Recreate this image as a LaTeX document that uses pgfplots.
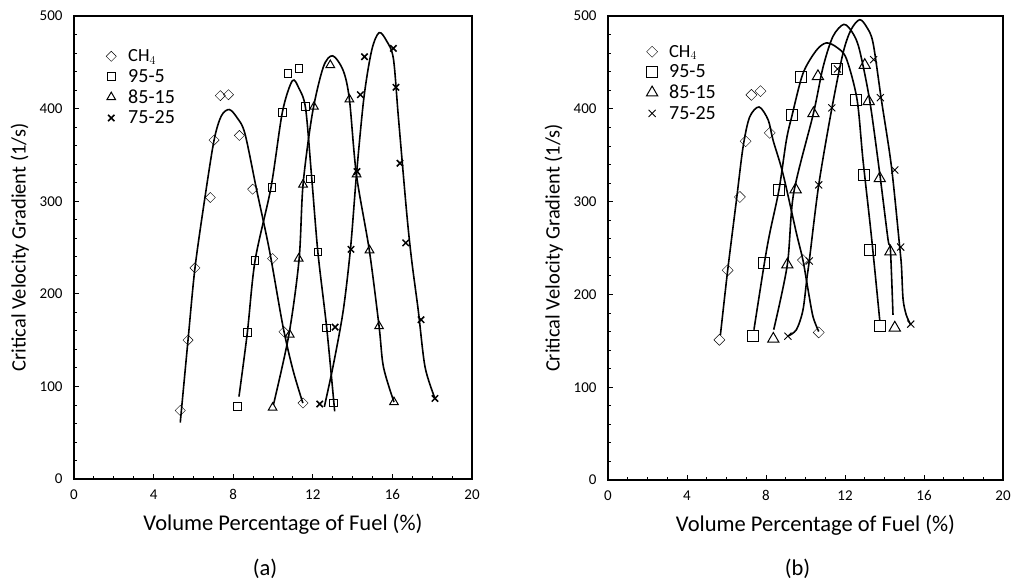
\documentclass[border=0pt]{standalone}
\usepackage{fontspec}
\setmainfont{Carlito}
\usepackage{pgfplots}
\pgfplotsset{compat=1.18}
\newcommand\tickfont{\fontsize{15}{16}\selectfont}
\newcommand\legfont{\fontsize{20}{22}\selectfont}
\newcommand\chfont{\fontsize{18.5}{20}\selectfont}
\newcommand\labfont{\fontsize{22.5}{24}\selectfont}
\newcommand\ylabfont{\fontsize{20.5}{22}\selectfont}

\pgfplotsset{
  panel/.style={
    scale only axis,
    xmin=0, xmax=20, ymin=0, ymax=500,
    xtick={0,4,...,20}, ytick={0,100,...,500},
    minor x tick num=3, minor y tick num=4,
    tick align=inside, tick pos=left,
    major tick length=5pt, minor tick length=3pt,
    every tick/.style={black, line width=0.8pt},
    axis line style={black, line width=1.2pt},
    every tick label/.append style={font=\tickfont},
    xticklabel style={yshift=-7pt},
    yticklabel style={xshift=-8pt},
    /pgf/number format/assume math mode=true,
    xlabel={Volume Percentage of Fuel (\%)},
    ylabel={Critical Velocity Gradient (1/s)},
    xlabel style={font=\labfont, at={(axis description cs:0.5,0)}, anchor=center, yshift=-45pt, xshift=10pt},
    ylabel style={font=\ylabfont, anchor=center},
    legend style={draw=none, fill=none, font=\legfont, anchor=north west,
      row sep=4pt, inner sep=0pt, nodes={inner sep=1pt}},
    legend cell align=left,
    legend image code/.code={\path[draw=none] (-6pt,0pt) -- (16pt,0pt); \draw[#1] plot coordinates {(0pt,0pt)};},
  },
  fitline/.style={black, line width=1.6pt, smooth, tension=0.5, no marks, forget plot},
  mk/.style={only marks, black, mark options={fill=white, line width=1pt}},
}

\begin{document}
\begin{tikzpicture}
\path[use as bounding box] (0,0) rectangle (1013pt,582pt);

% ---------------- (a) ----------------
\begin{axis}[panel, at={(74pt,103pt)}, anchor=south west, width=398pt, height=463pt,
  ylabel style={at={(axis description cs:-0.136,0.5)}},
  legend style={at={(axis description cs:0.078,0.93)}}]
\addplot[fitline] coordinates {(5.34,61) (5.73,150) (6.08,228) (6.58,304) (7.04,366) (7.4,392) (7.8,399) (8.2,390) (8.59,373) (9.18,312) (9.82,247) (10.5,165) (11.0,118) (11.5,82)};
\addplot[fitline] coordinates {(8.29,89) (8.71,158) (9.1,236) (9.9,315) (10.47,396) (10.97,430) (11.3,422) (11.64,400) (11.95,324) (12.26,244) (12.7,163) (13.1,73)};
\addplot[fitline] coordinates {(10.02,80) (10.8,156) (11.31,237) (11.51,318) (11.98,395) (12.53,445) (13.0,457) (13.53,441) (13.84,410) (14.19,329) (14.84,247) (15.33,165) (15.55,121) (16.08,83)};
\addplot[fitline] coordinates {(12.58,78) (13.03,123) (13.53,182) (13.9,250) (14.2,330) (14.57,412) (14.96,463) (15.33,482) (15.71,473) (16.05,454) (16.3,391) (16.72,287) (16.97,236) (17.3,182) (17.64,121) (18.14,87)};

\addplot[mk, mark=square, mark size=3.6pt, mark options={rotate=45}] coordinates {(5.34,74) (5.73,150) (6.08,228) (6.85,304) (7.04,366) (7.35,414) (7.76,415) (8.31,371) (8.98,313) (9.98,238) (10.55,159) (11.51,82)};
\addlegendentry{\chfont$\mathrm{CH}_4$}
\addplot[mk, mark=square, mark size=3.8pt] coordinates {(8.22,78) (8.71,158) (9.1,236) (9.95,315) (10.47,396) (10.75,438) (11.31,443) (11.64,402) (11.89,324) (12.26,245) (12.7,163) (13.03,82)};
\addlegendentry{\legfont 95-5}
\addplot[mk, mark=triangle, mark size=5pt] coordinates {(9.98,77) (10.84,156) (11.29,238) (11.51,318) (12.06,402) (12.88,447) (13.84,410) (14.2,329) (14.85,247) (15.33,165) (16.08,83)};
\addlegendentry{\legfont 85-15}
\addplot[mk, mark=x, mark size=4.5pt, mark options={line width=1.5pt}] coordinates {(12.35,81) (13.12,164) (13.92,248) (14.22,332) (14.39,415) (14.6,456) (16.05,465) (16.18,423) (16.38,341) (16.67,255) (17.44,172) (18.14,87)};
\addlegendentry{\legfont 75-25}
\end{axis}

% ---------------- (b) ----------------
\begin{axis}[panel, at={(608pt,102pt)}, anchor=south west, width=395pt, height=464pt,
  ylabel style={at={(axis description cs:-0.137,0.5)}},
  legend style={at={(axis description cs:0.096,0.94)}}]
\addplot[fitline] coordinates {(5.69,156) (6.06,226) (6.5,301) (6.84,359) (7.17,391) (7.65,402) (8.11,388) (8.36,366) (8.86,330) (9.54,266) (9.87,237) (10.13,205) (10.38,176) (10.67,160)};
\addplot[fitline] coordinates {(7.39,162) (7.92,234) (8.19,266) (8.66,313) (9.03,366) (9.32,393) (9.87,438) (10.55,463) (11.06,471) (11.6,466) (12.07,454) (12.61,410) (12.91,345) (13.34,262) (13.76,172)};
\addplot[fitline] coordinates {(8.39,162) (9.08,232) (9.4,309) (10.4,395) (10.89,445) (11.39,478) (11.95,491) (12.41,481) (12.74,463) (13.25,409) (13.76,330) (14.18,259) (14.3,248) (14.43,178)};
\addplot[fitline] coordinates {(9.11,155) (9.54,162) (9.87,183) (10.08,219) (10.19,236) (10.67,318) (11.33,400) (11.9,460) (12.3,485) (12.74,496) (13.1,488) (13.42,471) (13.84,410) (14.35,338) (14.77,251) (14.86,230) (14.94,195) (15.1,178) (15.33,167)};

\addplot[mk, mark=square, mark size=3.9pt, mark options={rotate=45}] coordinates {(5.64,151) (6.06,226) (6.68,305) (6.97,365) (7.26,415) (7.72,419) (8.19,374) (9.87,237) (10.67,159)};
\addlegendentry{\chfont$\mathrm{CH}_4$}
\addplot[mk, mark=square, mark size=5.5pt] coordinates {(7.34,155) (7.92,234) (8.66,313) (9.32,393) (9.76,434) (11.62,443) (12.58,410) (12.98,329) (13.29,248) (13.76,166)};
\addlegendentry{\legfont 95-5}
\addplot[mk, mark=triangle, mark size=6.5pt] coordinates {(8.37,152) (9.08,232) (9.5,313) (10.4,395) (10.63,435) (13.0,447) (13.2,408) (13.76,325) (14.3,246) (14.52,164)};
\addlegendentry{\legfont 85-15}
\addplot[mk, mark=x, mark size=5pt, mark options={line width=0.9pt}] coordinates {(9.11,155) (10.19,236) (10.67,318) (11.33,401) (11.62,443) (13.45,453) (13.79,412) (14.52,334) (14.82,251) (15.33,168)};
\addlegendentry{\legfont 75-25}
\end{axis}

\node[font=\labfont] at (265pt,13pt) {(a)};
\node[font=\labfont] at (797.5pt,13pt) {(b)};
\end{tikzpicture}
\end{document}
